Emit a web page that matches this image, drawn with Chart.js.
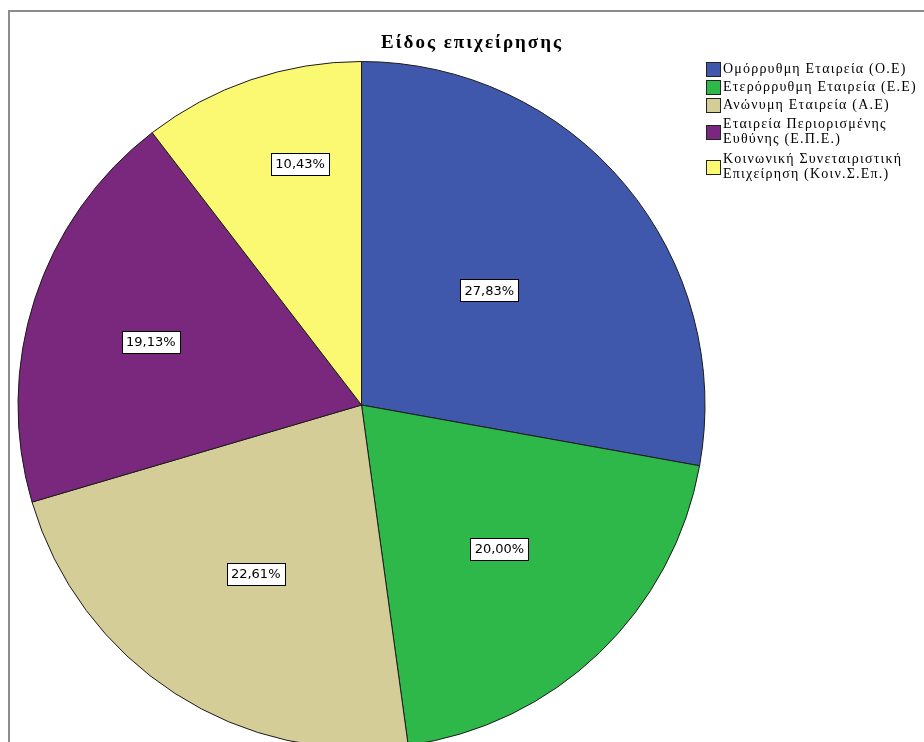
<!DOCTYPE html>
<html>
<head>
<meta charset="utf-8">
<script src="https://cdn.jsdelivr.net/npm/chart.js@4/dist/chart.umd.min.js"></script>
<style>
  html, body { margin: 0; padding: 0; background: #ffffff; overflow: hidden; }
  #wrap { position: relative; width: 924px; height: 760px; }
</style>
</head>
<body>
<div id="wrap"><canvas id="chart"></canvas></div>
<script>
// Chart content
const chartTitle = 'Είδος επιχείρησης';
const categories = [
  'Ομόρρυθμη Εταιρεία (Ο.Ε)',
  'Ετερόρρυθμη Εταιρεία (Ε.Ε)',
  'Ανώνυμη Εταιρεία (Α.Ε)',
  'Εταιρεία Περιορισμένης\nΕυθύνης (Ε.Π.Ε.)',
  'Κοινωνική Συνεταιριστική\nΕπιχείρηση (Κοιν.Σ.Επ.)'
];
const percentages = [27.83, 20.00, 22.61, 19.13, 10.43];
const sliceColors = ['#3f58ab', '#2eb84a', '#d4cd98', '#79287e', '#fbf872'];
// placement of each value box: share of the pie radius, and share of the slice's sweep
const labelRadius = [0.50, 0.58, 0.58, 0.64, 0.725];
const labelSweep = [0.48, 0.50, 0.49, 0.48, 0.62];

const fmtPct = v => v.toFixed(2).replace('.', ',') + '%';

// Frame, title, value boxes and legend drawn around the pie
const decorations = {
  id: 'decorations',
  beforeDraw(chart) {
    const ctx = chart.ctx;
    ctx.save();
    ctx.fillStyle = '#ffffff';
    ctx.fillRect(0, 0, chart.width, chart.height);
    ctx.strokeStyle = '#8c8c8c';
    ctx.lineWidth = 2;
    ctx.beginPath();
    ctx.moveTo(9, chart.height);
    ctx.lineTo(9, 11);
    ctx.lineTo(chart.width, 11);
    ctx.stroke();
    ctx.restore();
  },
  afterDatasetsDraw(chart) {
    const ctx = chart.ctx;
    const meta = chart.getDatasetMeta(0);
    ctx.save();
    // value boxes
    ctx.font = '13px "DejaVu Sans"';
    ctx.textAlign = 'center';
    ctx.textBaseline = 'middle';
    meta.data.forEach((arc, i) => {
      const p = arc.getProps(['x', 'y', 'startAngle', 'endAngle', 'outerRadius'], true);
      const ang = p.startAngle + (p.endAngle - p.startAngle) * labelSweep[i];
      const r = p.outerRadius * labelRadius[i];
      const cx = p.x + Math.cos(ang) * r;
      const cy = p.y + Math.sin(ang) * r;
      const txt = fmtPct(chart.data.datasets[0].data[i]);
      const w = Math.round(ctx.measureText(txt).width) + 8;
      const h = 22;
      const bx = Math.round(cx - w / 2) + 0.5;
      const by = Math.round(cy - h / 2) + 0.5;
      ctx.fillStyle = '#ffffff';
      ctx.fillRect(bx, by, w, h);
      ctx.strokeStyle = '#000000';
      ctx.lineWidth = 1;
      ctx.strokeRect(bx, by, w, h);
      ctx.fillStyle = '#000000';
      ctx.fillText(txt, cx, cy + 1);
    });

    // title
    ctx.font = 'bold 19px "Liberation Serif"';
    ctx.letterSpacing = '2px';
    ctx.fillStyle = '#000000';
    ctx.textAlign = 'center';
    ctx.textBaseline = 'middle';
    ctx.fillText(chartTitle, 472, 43);

    // legend
    ctx.font = '14px "Liberation Serif"';
    ctx.letterSpacing = '1.2px';
    ctx.textAlign = 'left';
    let y = 60;
    const lineH = 15;
    chart.data.labels.forEach((lab, i) => {
      const lines = lab.split('\n');
      const blockH = lines.length > 1 ? lines.length * lineH + 5 : 18;
      const mid = y + blockH / 2;
      const sq = 14;
      const sy = Math.round(mid - sq / 2) + 0.5;
      ctx.fillStyle = sliceColors[i];
      ctx.fillRect(706.5, sy, sq, sq);
      ctx.strokeStyle = '#222222';
      ctx.lineWidth = 1;
      ctx.strokeRect(706.5, sy, sq, sq);
      ctx.fillStyle = '#000000';
      const first = mid - (lines.length - 1) * lineH / 2;
      lines.forEach((ln, j) => {
        ctx.fillText(ln, 723, first + lineH * j);
      });
      y += blockH;
    });
    ctx.restore();
  }
};

new Chart(document.getElementById('chart'), {
  type: 'pie',
  data: {
    labels: categories,
    datasets: [{
      data: percentages,
      backgroundColor: sliceColors,
      borderColor: '#1c1c1c',
      borderWidth: 1
    }]
  },
  options: {
    responsive: true,
    maintainAspectRatio: false,
    animation: false,
    layout: { padding: { left: 17, right: 218, top: 61, bottom: 11 } },
    plugins: {
      legend: { display: false },
      title: { display: false },
      tooltip: { enabled: false }
    }
  },
  plugins: [decorations]
});
</script>
</body>
</html>
